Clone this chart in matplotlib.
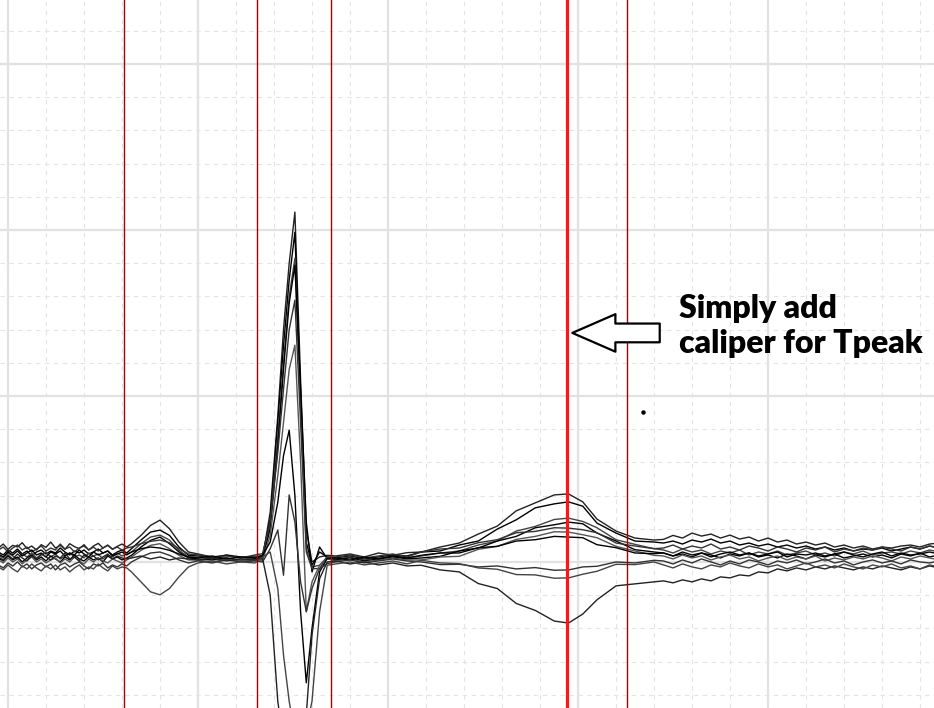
import matplotlib
matplotlib.use('Agg')
import matplotlib.pyplot as plt
from matplotlib.ticker import MultipleLocator

# shared time axis of the superimposed beats (ms)
t_ms = [-10, -5, 0, 5, 10, 15, 20, 25, 30, 35, 40, 45, 50, 55, 60, 65, 70, 75,
        80, 85, 90, 95, 100, 105, 110, 115, 120, 125,
        130, 140, 150, 160, 170, 180, 190,
        200, 215, 230, 245, 260,
        268, 276, 284, 290, 296, 302, 308, 314, 320, 328, 336,
        345, 360, 375, 390, 405, 420,
        435, 455, 475, 495, 515, 535, 555, 575, 590, 605, 620, 640, 660, 680,
        690, 700, 710, 720, 730, 740, 750, 760, 770, 780, 790, 800, 810, 820, 830,
        840, 850, 860, 870, 880, 890, 900, 910, 920, 930, 940, 950, 960, 970, 980]

# beat amplitudes (uV)
beat_01 = [42, 54, 38, 50, 45, 58, 40, 48, 36, 52, 44, 60, 42, 50, 38, 55, 46, 40,
           52, 36, 48, 56, 42, 50, 38, 47, 54, 45,
           55, 80, 110, 126, 100, 60, 30,
           24, 15, 20, 12, 18,
           12, 150, 440, 700, 900, 1054, 548, 96, 0, 15, 20,
           18, 24, 15, 27, 20, 28,
           30, 45, 57, 84, 108, 154, 178, 202, 205, 181, 129, 93, 72, 66,
           68, 80, 72, 87, 78, 84, 72, 81, 69, 75, 63, 72, 60, 66, 54,
           60, 51, 57, 45, 51, 42, 48, 39, 45, 42, 48, 51, 45, 54, 57]
beat_02 = [30, 21, 36, 27, 39, 24, 33, 18, 30, 36, 24, 33, 27, 42, 30, 21, 33, 27,
           36, 24, 30, 39, 27, 33, 21, 30, 36, 27,
           40, 66, 90, 96, 80, 45, 20,
           18, 12, 21, 15, 12,
           18, 130, 420, 650, 850, 993, 500, 60, -10, 30, 15,
           12, 18, 9, 15, 21, 18,
           30, 33, 51, 63, 99, 127, 163, 175, 181, 168, 117, 87, 63, 60,
           57, 63, 54, 66, 60, 69, 57, 63, 51, 57, 48, 54, 45, 51, 42,
           48, 39, 45, 36, 42, 33, 39, 36, 42, 33, 39, 45, 39, 48, 42]
beat_03 = [21, 12, 27, 18, 9, 24, 15, 27, 12, 21, 30, 15, 24, 9, 18, 27, 15, 21,
           12, 27, 18, 24, 9, 21, 15, 27, 18, 24,
           30, 55, 75, 81, 66, 35, 15,
           15, 9, 12, 6, 15,
           20, 110, 380, 600, 800, 915, 470, 40, -15, -10, 15,
           9, 15, 6, 12, 18, 12,
           18, 27, 33, 51, 63, 93, 107, 128, 132, 122, 103, 67, 53, 40,
           36, 27, 39, 30, 36, 24, 33, 27, 36, 21, 30, 24, 33, 21, 27,
           33, 21, 27, 18, 30, 24, 33, 21, 27, 30, 24, 33, 27, 36, 30]
beat_04 = [12, 3, 18, 6, 15, 0, 12, 21, 6, 15, 3, 18, 9, 0, 15, 6, 21, 9,
           3, 15, 6, 12, 0, 18, 9, 15, 6, 12,
           20, 45, 65, 75, 55, 30, 12,
           9, 6, 12, 3, 9,
           10, 100, 350, 580, 780, 894, 520, 120, -30, 45, 10,
           6, 12, 3, 9, 15, 9,
           12, 17, 33, 42, 63, 77, 103, 112, 120, 115, 87, 63, 37, 30,
           27, 18, 24, 15, 27, 21, 12, 24, 18, 27, 15, 21, 12, 24, 18,
           9, 21, 15, 24, 12, 18, 24, 15, 21, 12, 24, 18, 27, 15, 21]
beat_05 = [36, 45, 30, 42, 51, 36, 45, 30, 39, 48, 33, 42, 36, 54, 39, 45, 30, 42,
           48, 36, 45, 33, 42, 51, 39, 45, 36, 42,
           45, 55, 62, 66, 58, 40, 24,
           21, 15, 18, 12, 21,
           25, 120, 330, 520, 700, 789, 420, 30, -20, -20, 15,
           15, 21, 12, 18, 24, 15,
           30, 39, 42, 58, 67, 88, 92, 103, 102, 97, 88, 57, 48, 40,
           42, 51, 39, 48, 42, 54, 39, 45, 36, 48, 42, 33, 45, 39, 30,
           42, 36, 45, 30, 39, 33, 42, 36, 45, 39, 33, 45, 39, 48, 42]
beat_06 = [6, -3, 12, 0, 9, -6, 6, 15, 0, 9, -3, 6, 12, -3, 9, 0, 15, 3,
           -6, 9, 0, 12, 3, -3, 9, 3, -3, 6,
           15, 35, 50, 55, 40, 20, 6,
           6, 0, 9, 3, 6,
           5, 80, 260, 420, 580, 653, 300, -150, -60, -10, 10,
           3, 9, 0, 6, 12, 6,
           6, 15, 17, 38, 47, 68, 77, 91, 90, 82, 73, 47, 33, 20,
           18, 9, 21, 12, 18, 6, 15, 21, 9, 15, 3, 12, 18, 6, 15,
           9, 18, 3, 12, 6, 15, 9, 18, 12, 3, 15, 9, 18, 12, 6]
beat_07 = [24, 15, 30, 21, 33, 18, 27, 36, 21, 27, 15, 30, 24, 33, 18, 27, 21, 36,
           24, 15, 30, 21, 27, 33, 18, 24, 30, 21,
           30, 40, 45, 42, 35, 24, 15,
           12, 18, 9, 15, 12,
           20, 60, 180, 320, 397, 200, -150, -364, -200, -30, 10,
           12, 6, 15, 9, 18, 12,
           20, 27, 27, 43, 47, 63, 67, 77, 75, 73, 52, 43, 27, 25,
           27, 18, 30, 21, 27, 15, 24, 30, 21, 27, 18, 24, 30, 15, 24,
           21, 27, 18, 24, 30, 21, 15, 24, 30, 18, 27, 21, 24, 30, 24]
beat_08 = [-9, -18, -3, -12, 0, -15, -6, -21, -9, -3, -15, -6, -24, -9, -3, -15, -6, 0,
           -12, -21, -6, -12, -3, -18, -9, -15, -6, -12,
           0, 15, 27, 30, 20, 6, -3,
           3, -3, 6, 0, 3,
           0, 40, 96, -40, 202, 120, -60, -150, -80, -20, -5,
           0, 6, -3, 3, 9, 3,
           0, -8, -7, -15, -12, -21, -17, -25, -24, -15, -13, 0, -3, 5,
           3, -6, 6, -3, 9, 0, -9, 3, -6, 6, 0, -9, 3, -3, 6,
           -6, 0, 9, -3, 3, -9, 0, 6, -3, 3, -6, 6, 0, -3, 3]
beat_09 = [15, 6, 21, 9, 24, 12, 3, 18, 9, 24, 15, 6, 18, 12, 27, 9, 15, 3,
           21, 12, 18, 6, 15, 24, 9, 18, 12, 9,
           12, 18, 9, 15, 6, 12, 9,
           6, 12, 3, 9, 6,
           10, -100, -420, -540, -620, -640, -580, -460, -220, -50, 0,
           3, -6, 0, -9, -3, -12,
           -10, -24, -30, -65, -80, -125, -146, -178, -184, -157, -114, -72, -66, -60,
           -57, -63, -54, -60, -51, -57, -45, -48, -39, -42, -30, -33, -21, -27, -18,
           -24, -15, -21, -12, -18, -24, -15, -21, -12, -18, -24, -15, -21, -12, -18]
beat_10 = [-15, -24, -9, -21, -30, -12, -21, -6, -18, -27, -12, -21, -9, -24, -15, -30, -18, -9,
           -24, -15, -21, -6, -18, -27, -12, -21, -15, -18,
           -30, -60, -90, -99, -80, -45, -15,
           -3, 3, -6, 0, -3,
           15, 30, -80, -280, -420, -520, -540, -500, -420, -150, -10,
           -6, 0, -9, -3, 3, -6,
           5, -3, -5, -18, -22, -38, -39, -49, -48, -37, -28, -7, -8, 0,
           -9, -18, -6, -15, -21, -9, -15, -3, -12, -18, -6, -15, -9, -21, -12,
           -3, -15, -9, -18, -6, -15, -21, -9, -15, -6, -18, -12, -21, -9, -15]

beats = [beat_01, beat_02, beat_03, beat_04, beat_05,
         beat_06, beat_07, beat_08, beat_09, beat_10]
beat_colors = ['#222222', 'black', '#444444', 'black', '#333333',
               '#555555', 'black', '#333333', '#222222', '#444444']

# caliper positions (ms)
calipers = [122, 262, 340, 652]
tpeak_caliper = 588

stray_dot = (668, 452)

fig = plt.figure(figsize=(9.34, 7.08), dpi=100)
ax = fig.add_axes([0, 0, 1, 1])

for beat, col in zip(beats, beat_colors):
    ax.plot(t_ms, beat, color=col, lw=1.0, zorder=3)

for c in calipers:
    ax.axvline(c, color='#a80000', lw=1.0, zorder=4)
ax.axvline(tpeak_caliper, color='#ff1515', lw=2.3, zorder=4)

ax.plot([stray_dot[0]], [stray_dot[1]], 'o', color='black', ms=2.2, zorder=5)

ax.annotate('', xy=(594, 690), xytext=(686, 690),
            arrowprops=dict(arrowstyle='simple,head_length=31,head_width=27,tail_width=13.5',
                            mutation_scale=1, fc='white', ec='black', lw=1.6,
                            shrinkA=0, shrinkB=0), zorder=6)
ax.text(706, 712, 'Simply add\ncaliper for Tpeak', fontsize=23, fontweight='heavy',
        family=['Lato', 'DejaVu Sans'], va='center', ha='left', linespacing=1.25, zorder=6)

ax.set_xlim(-8.4, 974.7)
ax.set_ylim(-440, 1693)
ax.xaxis.set_major_locator(MultipleLocator(200))
ax.xaxis.set_minor_locator(MultipleLocator(40))
ax.yaxis.set_major_locator(MultipleLocator(500))
ax.yaxis.set_minor_locator(MultipleLocator(100))
ax.grid(which='major', color='#e2e2e2', lw=1.6)
ax.grid(which='minor', color='#e4e4e4', lw=0.8, ls=(0, (4, 4)))
ax.set_axisbelow(True)
ax.tick_params(which='both', length=0, labelbottom=False, labelleft=False)
for s in ax.spines.values():
    s.set_visible(False)

fig.savefig('out.png', dpi=100)
